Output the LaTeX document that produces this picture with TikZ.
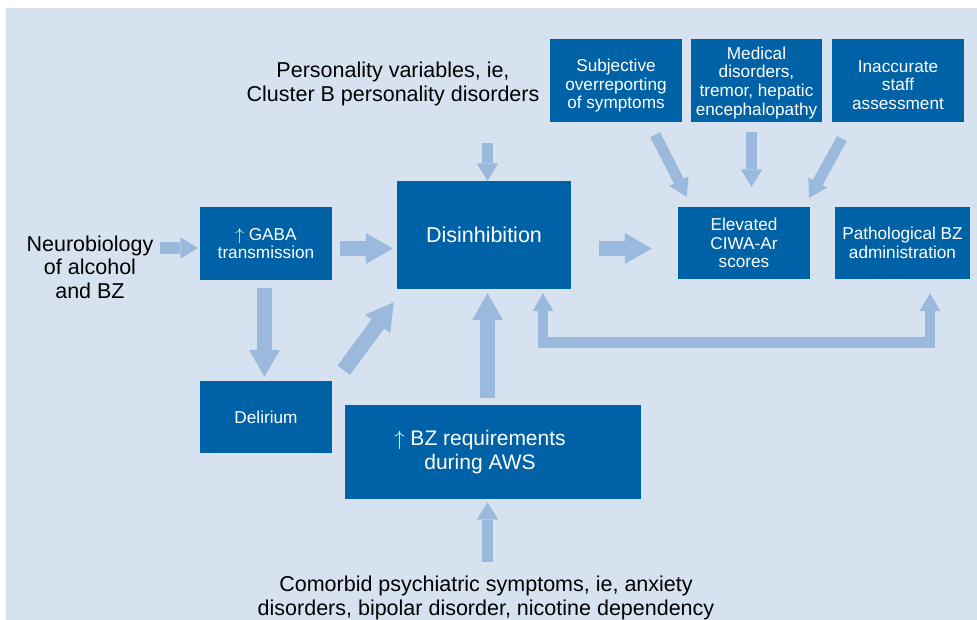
\documentclass[tikz,border=0pt]{standalone}
\usepackage{fontspec}
\setmainfont{Liberation Sans}
\usetikzlibrary{arrows.meta}
\definecolor{bgblue}{RGB}{214,226,240}
\definecolor{boxblue}{RGB}{0,98,166}
\definecolor{arrblue}{RGB}{155,185,220}
\begin{document}
\begin{tikzpicture}[x=1pt,y=-1pt,
    box/.style={rectangle,fill=boxblue,text=white,inner sep=0pt,align=center,font=\fontsize{17.2}{18.6}\selectfont},
    lbl/.style={inner sep=0pt,align=center,font=\fontsize{21.5}{23.5}\selectfont},
    bigarr/.style={arrblue,line width=15.5pt,-{Triangle[width=31pt,length=27pt,line width=0pt]}},
    smallarr/.style={arrblue,line width=11pt,-{Triangle[width=21.5pt,length=17.5pt,line width=0pt]}}]
    % canvas, 977 x 620 px
    \useasboundingbox (0,0) rectangle (977,620);
    \fill[bgblue] (6,8) rectangle (977,620);

    % boxes
    \node[box,minimum width=132pt,minimum height=73pt] (gaba) at (266,243.5) {$\uparrow$ GABA\\transmission};
    \node[box,minimum width=174pt,minimum height=108pt,font=\fontsize{21.5}{26}\selectfont] (dis) at (484,235) {Disinhibition};
    \node[box,minimum width=132pt,minimum height=72pt] (delir) at (266,417) {Delirium};
    \node[box,minimum width=296pt,minimum height=94pt,font=\fontsize{21}{24}\selectfont] (bzreq) at (493,452) {$\uparrow$ BZ requirements\hspace*{26pt}\\during AWS\hspace*{26pt}};
    \node[box,minimum width=132pt,minimum height=83pt] (subj) at (616,80.5) {\rule{0pt}{23pt}Subjective\\overreporting\\of symptoms};
    \node[box,minimum width=131pt,minimum height=83pt] (med) at (756.5,80.5) {\rule{0pt}{17pt}Medical\\disorders,\\tremor, hepatic\\encephalopathy};
    \node[box,minimum width=132pt,minimum height=83pt] (inacc) at (898,80.5) {\rule{0pt}{21pt}Inaccurate\\staff\\assessment};
    \node[box,minimum width=132pt,minimum height=72pt] (elev) at (744,243) {Elevated\\CIWA-Ar\\scores};
    \node[box,minimum width=135pt,minimum height=72pt] (pathbz) at (902.5,243) {Pathological BZ\\administration};

    % free texts
    \node[lbl] (pers) at (393,84) {Personality variables, ie,\\Cluster B personality disorders};
    \node[lbl] (neuro) at (90,267) {Neurobiology\\of alcohol\\and BZ};
    \node[lbl] (comorb) at (486,598) {Comorbid psychiatric symptoms, ie, anxiety\\disorders, bipolar disorder, nicotine dependency};

    % arrows on the left
    \draw[smallarr,line width=12pt,shorten <=6pt,shorten >=2pt] ([yshift=-4.5pt]gaba.west -| neuro.east) -- ([yshift=-4.5pt]gaba.west);
    \draw[bigarr,shorten <=8pt,shorten >=4pt] ([yshift=-5pt]gaba.east) -- ([yshift=-5pt]gaba.east -| dis.west);
    \draw[bigarr,shorten <=8pt,shorten >=4pt] ([xshift=-1.5pt]gaba.south) -- ([xshift=-1.5pt]gaba.south |- delir.north);
    \draw[bigarr] ([shift={(11.5,-10.5)}]delir.north east) -- ([shift={(-3,13)}]dis.south west);

    % arrows into disinhibition from above and below
    \draw[smallarr,shorten <=37pt] ([xshift=3.5pt]dis.north |- pers.south) -- ([xshift=3.5pt]dis.north);
    \draw[bigarr,shorten <=7pt,shorten >=4pt] ([xshift=3.5pt]dis.south |- bzreq.north) -- ([xshift=3.5pt]dis.south);
    \draw[smallarr,shorten <=14pt,shorten >=3pt] ([xshift=-5.5pt]bzreq.south |- comorb.north) -- ([xshift=-5.5pt]bzreq.south);

    % arrows on the right
    \draw[bigarr,shorten <=28pt,shorten >=26pt] ([yshift=-13.5pt]dis.east) -- ([yshift=-13.5pt]dis.east -| elev.west);
    \draw[smallarr] ([shift={(-27,12.5)}]subj.south east) -- ([shift={(9,-10)}]elev.north west);
    \draw[smallarr,shorten <=10pt,shorten >=20pt] ([xshift=-5pt]med.south) -- ([xshift=-5pt]med.south |- elev.north);
    \draw[smallarr] ([shift={(10,16.5)}]inacc.south west) -- ([shift={(-1,-9)}]elev.north east);

    % feedback loop
    \draw[arrblue,line width=10.5pt,{Triangle[width=21pt,length=18pt,line width=0pt]}-{Triangle[width=21pt,length=18pt,line width=0pt]},shorten <=4pt,shorten >=14pt]
        ([xshift=59pt]dis.south) -- ++(0,53.5) -| ([xshift=27.5pt]pathbz.south);
\end{tikzpicture}
\end{document}
